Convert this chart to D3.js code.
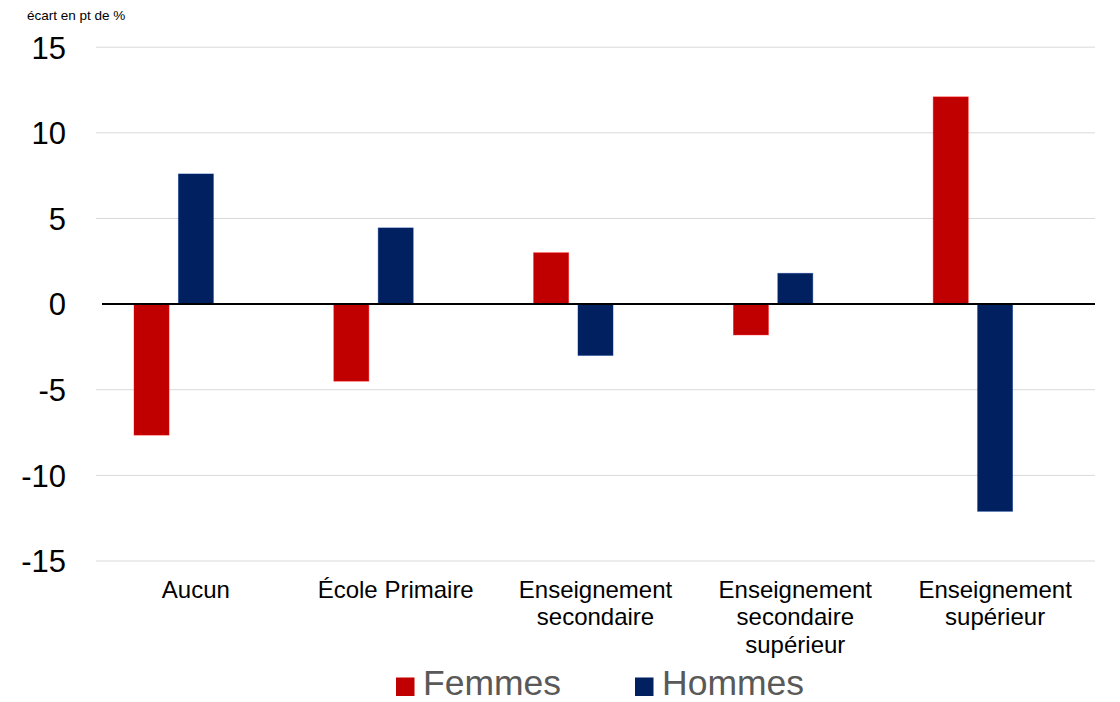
<!DOCTYPE html>
<html><head><meta charset="utf-8">
<script src="https://cdn.jsdelivr.net/npm/d3@7"></script>
<style>body{margin:0;background:#fff;}svg{display:block;font-family:"Liberation Sans",Arial,sans-serif;}</style>
</head><body>
<svg id="c" width="1120" height="702"></svg>
<script>
const categories = [["Aucun"],["École Primaire"],["Enseignement","secondaire"],["Enseignement","secondaire","supérieur"],["Enseignement","supérieur"]];
const seriesNames = ["Femmes","Hommes"];
const femmes = [-7.65,-4.5,3.0,-1.8,12.1];
const hommes = [7.6,4.45,-3.0,1.8,-12.1];
const colors = ["#C00000","#002060"];
const yTicks = [-15,-10,-5,0,5,10,15];

(function(){
const svg = d3.select("#c");
const plotLeft = 96, plotRight = 1095, plotTop = 47.2, plotBottom = 561;
const y = d3.scaleLinear().domain([-15,15]).range([plotBottom, plotTop]);
const x0 = d3.scaleBand().domain(d3.range(categories.length)).range([plotLeft, plotRight]);
const bw = x0.bandwidth();
// three slots per category (third slot empty)
const x1 = d3.scaleBand().domain([0,1,2]).range([38, bw-38]).paddingInner(0.21);

// gridlines
svg.append("g").selectAll("line").data(yTicks.filter(d=>d!==0)).join("line")
  .attr("x1", plotLeft).attr("x2", plotRight).attr("y1", d=>y(d)).attr("y2", d=>y(d))
  .attr("stroke", "#d9d9d9").attr("stroke-width", 1);

// y axis labels
const yAxis = d3.axisLeft(y).tickValues(yTicks).tickSize(0).tickPadding(0).tickFormat(d => String(d));
const ga = svg.append("g").attr("transform", `translate(66,0)`).call(yAxis);
ga.select(".domain").remove();
ga.selectAll("text").attr("font-size", 31).attr("fill", "#000").attr("font-family", "Liberation Sans, Arial, sans-serif").attr("dy", "0.35em");

// bars
const data = [femmes, hommes];
data.forEach((vals, si) => {
  svg.append("g").selectAll("rect").data(vals).join("rect")
    .attr("x", (d,i) => x0(i) + x1(si))
    .attr("width", x1.bandwidth())
    .attr("y", d => y(Math.max(0,d)))
    .attr("height", d => Math.abs(y(d) - y(0)))
    .attr("fill", colors[si])
    .attr("stroke", d3.color(colors[si]).brighter(1.2))
    .attr("stroke-opacity", 0.5)
    .attr("stroke-width", 0.8);
});

// zero line
svg.append("line").attr("x1", 102).attr("x2", plotRight).attr("y1", y(0)).attr("y2", y(0))
  .attr("stroke", "#000").attr("stroke-width", 2);

// category labels
const cl = svg.append("g").selectAll("text").data(categories).join("text")
  .attr("x", (d,i) => x0(i) + bw/2)
  .attr("y", 598)
  .attr("text-anchor", "middle")
  .attr("font-size", 24).attr("fill", "#000");
cl.selectAll("tspan").data(d=>d).join("tspan")
  .attr("x", function(){ return this.parentNode.getAttribute("x"); })
  .attr("dy", (d,i)=> i===0 ? 0 : 27.3)
  .text(d=>d);

// title
svg.append("text").attr("x", 27).attr("y", 20).attr("font-size", 13.5).attr("fill", "#000").text("écart en pt de %");

// legend
const legX = [396, 635];
seriesNames.forEach((n,i) => {
  svg.append("rect").attr("x", legX[i]).attr("y", 677.5).attr("width", 18.5).attr("height", 18.5).attr("fill", colors[i]);
  svg.append("text").attr("x", legX[i]+27).attr("y", 694.5).attr("font-size", 35.5).attr("fill", "#595959").text(n);
});
})();
</script>
</body></html>
